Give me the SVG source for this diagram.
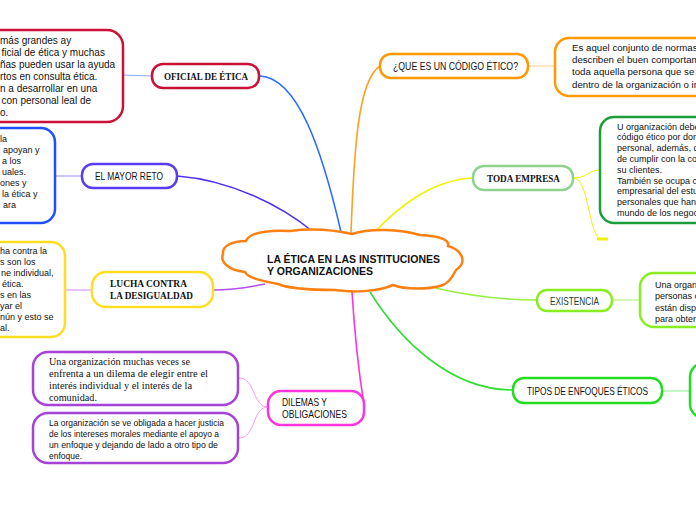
<svg xmlns="http://www.w3.org/2000/svg" width="696" height="520" viewBox="0 0 696 520">
<style>
.bx{fill:#fff;stroke-width:2.5}
.sans{font-family:"Liberation Sans",Arial,sans-serif;font-size:10.5px;fill:#111}
.slab{font-family:"Liberation Serif","Times New Roman",serif;font-weight:bold;font-size:10.5px;fill:#111}
.slabr{font-family:"Liberation Serif","Times New Roman",serif;font-size:10.5px;fill:#111}
.d{font-family:"Liberation Sans",Arial,sans-serif;font-size:10px;fill:#111}
.dq{font-family:"Liberation Sans",Arial,sans-serif;font-size:9.7px;fill:#111}
.d9{font-family:"Liberation Sans",Arial,sans-serif;font-size:9px;fill:#111}
.ctr{font-family:"Liberation Sans",Arial,sans-serif;font-weight:bold;font-size:11px;fill:#111}
.c{fill:none;stroke-width:1.6}
.cl{fill:none;stroke-width:1}
</style>
<rect width="696" height="520" fill="#fff"/>
<g id="connectors">
<path class="c" d="M341,232 C322,150 298,78 260,76" stroke="#2b6cff"/>
<path class="c" d="M312,231 C280,205 230,180 177,176" stroke="#5533ee"/>
<path class="c" d="M265,284 C245,288 228,290 213,290" stroke="#b44cf5"/>
<path class="c" d="M352,292 C355,340 360,380 364,405" stroke="#ff33dd"/>
<path class="c" d="M351,233 C354,150 358,80 380,66" stroke="#ffa020"/>
<path class="c" d="M375,232 C395,210 430,180 473,178" stroke="#f2f200"/>
<path class="c" d="M435,288 C470,296 505,300 537,300" stroke="#99ee44"/>
<path class="c" d="M370,292 C400,340 450,390 513,390" stroke="#33dd33"/>
<path class="cl" d="M123,75 L152,76" stroke="#88aaff"/>
<path class="cl" d="M55,176 L82,176" stroke="#9988ee"/>
<path class="cl" d="M65,290 L92,290" stroke="#cc88ff"/>
<path class="cl" d="M268,407 C252,407 256,378 239,378" stroke="#ff99ee"/>
<path class="cl" d="M268,407 C252,407 256,438 239,438" stroke="#ff99ee"/>
<path class="cl" d="M528,66 L555,66" stroke="#ffcc88"/>
<path class="cl" d="M573,178 C588,178 588,170 600,170" stroke="#f2f200"/>
<path class="cl" d="M573,178 C590,178 588,239 602,239" stroke="#f2f200"/>
<path d="M597,239 L608,239" stroke="#f2f200" stroke-width="3"/>
<path class="cl" d="M612,300 L640,300" stroke="#aaee66"/>
<path class="cl" d="M662,391 L690,391" stroke="#88ee88"/>
</g>
<g id="center">
<path class="bx" stroke="#ff7f11" d="M223,254 C222,246 232,241 246,241 C250,232 268,230 290,231 C305,229 325,228 352,234 C370,228 400,229 420,235 C440,236 450,240 448,246 C462,250 468,262 456,270 C452,278 448,284 440,286 C430,289 405,290 393,285 C380,291 355,293 335,290 C315,290 290,289 278,284 C262,281 248,278 245,272 C228,270 220,262 223,254 Z"/>
<text class="ctr" x="267" y="262.5" textLength="173" lengthAdjust="spacingAndGlyphs">LA ÉTICA EN LAS INSTITUCIONES</text>
<text class="ctr" x="267" y="274.5" textLength="106" lengthAdjust="spacingAndGlyphs">Y ORGANIZACIONES</text>
</g>
<g id="oficial">
<rect class="bx" stroke="#cc1038" x="152" y="64" width="107" height="24" rx="11"/>
<text class="slab" x="164" y="79.5" textLength="84" lengthAdjust="spacingAndGlyphs">OFICIAL DE ÉTICA</text>
</g>
<g id="oficial-detail">
<rect class="bx" stroke="#cc1038" x="-20" y="30" width="143" height="92" rx="16"/>
<text class="d" x="0" y="43.5">más grandes ay</text>
<text class="d" x="1.5" y="55.5">ficial de ética y muchas</text>
<text class="d" x="0" y="67.5">ñas pueden usar la ayuda</text>
<text class="d" x="0" y="79.5">rtos en consulta ética.</text>
<text class="d" x="0" y="91.5">n a desarrollar en una</text>
<text class="d" x="1.5" y="103.5">con personal leal de</text>
<text class="d" x="0" y="115.5">o.</text>
</g>
<g id="mayor-reto">
<rect class="bx" stroke="#5b3cf5" x="82" y="164" width="95" height="24" rx="11"/>
<text class="sans" x="95" y="180" textLength="68" lengthAdjust="spacingAndGlyphs">EL MAYOR RETO</text>
</g>
<g id="mayor-detail">
<rect class="bx" stroke="#1f4fff" x="-20" y="128" width="75" height="95" rx="14"/>
<text class="d9" x="0" y="141.5">la</text>
<text class="d9" x="3" y="152.5">apoyan y</text>
<text class="d9" x="2" y="163.5">a los</text>
<text class="d9" x="2" y="174.5">uales.</text>
<text class="d9" x="0" y="185.5">ones y</text>
<text class="d9" x="2" y="196.5">la ética y</text>
<text class="d9" x="3" y="207.5">ara</text>
</g>
<g id="lucha">
<rect class="bx" stroke="#ffdd22" x="92" y="272" width="121" height="35" rx="14"/>
<text class="slab" x="110" y="287" textLength="77" lengthAdjust="spacingAndGlyphs">LUCHA CONTRA</text>
<text class="slab" x="110" y="298.5" textLength="83" lengthAdjust="spacingAndGlyphs">LA DESIGUALDAD</text>
</g>
<g id="lucha-detail">
<rect class="bx" stroke="#ffdd22" x="-20" y="242" width="85" height="95" rx="14"/>
<text class="d9" x="0" y="253.5">ha contra la</text>
<text class="d9" x="0" y="264.6">s son los</text>
<text class="d9" x="1" y="275.7">ne individual,</text>
<text class="d9" x="2" y="286.8">ética.</text>
<text class="d9" x="0" y="297.9">s en las</text>
<text class="d9" x="0" y="309">yar el</text>
<text class="d9" x="0" y="320.1">nún y esto se</text>
<text class="d9" x="0" y="331.2">al.</text>
</g>
<g id="dilemas">
<rect class="bx" stroke="#ff33dd" x="268" y="391" width="96" height="34" rx="13"/>
<text class="sans" x="282" y="406" textLength="45" lengthAdjust="spacingAndGlyphs">DILEMAS Y</text>
<text class="sans" x="282" y="418" textLength="65" lengthAdjust="spacingAndGlyphs">OBLIGACIONES</text>
</g>
<g id="dilemas-a">
<rect class="bx" stroke="#a542d8" x="33" y="352" width="205" height="53" rx="15"/>
<text class="slabr" x="49" y="364.5" textLength="141" lengthAdjust="spacingAndGlyphs">Una organización muchas veces se</text>
<text class="slabr" x="49" y="376.5" textLength="159" lengthAdjust="spacingAndGlyphs">enfrenta a un dilema de elegir entre el</text>
<text class="slabr" x="49" y="388.5" textLength="143" lengthAdjust="spacingAndGlyphs">interés individual y el interés de la</text>
<text class="slabr" x="49" y="400.5" textLength="48" lengthAdjust="spacingAndGlyphs">comunidad.</text>
</g>
<g id="dilemas-b">
<rect class="bx" stroke="#a542d8" x="33" y="413" width="205" height="50" rx="15"/>
<text class="d9" x="49" y="425.5" textLength="175" lengthAdjust="spacingAndGlyphs">La organización se ve obligada a hacer justicia</text>
<text class="d9" x="49" y="437" textLength="170" lengthAdjust="spacingAndGlyphs">de los intereses morales mediante el apoyo a</text>
<text class="d9" x="49" y="448" textLength="169" lengthAdjust="spacingAndGlyphs">un enfoque y dejando de lado a otro tipo de</text>
<text class="d9" x="49" y="459" textLength="33" lengthAdjust="spacingAndGlyphs">enfoque.</text>
</g>
<g id="que-es">
<rect class="bx" stroke="#ff9900" x="380" y="54" width="148" height="24" rx="11"/>
<text class="sans" x="393" y="69.5" textLength="125" lengthAdjust="spacingAndGlyphs">¿QUE ES UN CÓDIGO ÉTICO?</text>
</g>
<g id="que-detail">
<rect class="bx" stroke="#ff9900" x="555" y="38" width="160" height="58" rx="14"/>
<text class="dq" x="572" y="50.5">Es aquel conjunto de normas</text>
<text class="dq" x="572" y="62.5">describen el buen comportam</text>
<text class="dq" x="572" y="75">toda aquella persona que se c</text>
<text class="dq" x="572" y="87.5">dentro de la organización o in</text>
</g>
<g id="toda-empresa">
<rect class="bx" stroke="#8fd18f" x="473" y="166" width="100" height="24" rx="11"/>
<text class="slab" x="487" y="182" textLength="73" lengthAdjust="spacingAndGlyphs">TODA EMPRESA</text>
</g>
<g id="toda-detail">
<rect class="bx" stroke="#1a9e3c" x="600" y="117" width="120" height="106" rx="14"/>
<text class="d9" x="617" y="129.5">U organización debe</text>
<text class="d9" x="617" y="140.3">código ético por donde</text>
<text class="d9" x="617" y="151.1">personal, además, de</text>
<text class="d9" x="617" y="161.9">de cumplir con la con</text>
<text class="d9" x="617" y="172.7">su clientes.</text>
<text class="d9" x="617" y="183.5">También se ocupa co</text>
<text class="d9" x="617" y="194.3">empresarial del estud</text>
<text class="d9" x="617" y="205.1">personales que han c</text>
<text class="d9" x="617" y="215.9">mundo de los negoci</text>
</g>
<g id="existencia">
<rect class="bx" stroke="#88ee22" x="537" y="290" width="75" height="21" rx="10"/>
<text class="sans" x="550" y="304.5" textLength="49" lengthAdjust="spacingAndGlyphs" style="fill:#1e4030">EXISTENCIA</text>
</g>
<g id="existencia-detail">
<rect class="bx" stroke="#88ee22" x="640" y="273" width="80" height="54" rx="14"/>
<text class="d9" x="655" y="287.5">Una organ</text>
<text class="d9" x="655" y="299">personas c</text>
<text class="d9" x="655" y="310.5">están disp</text>
<text class="d9" x="655" y="322">para obten</text>
</g>
<g id="tipos">
<rect class="bx" stroke="#22dd22" x="513" y="378" width="149" height="25" rx="11"/>
<text class="sans" x="527" y="394.5" textLength="121" lengthAdjust="spacingAndGlyphs">TIPOS DE ENFOQUES ÉTICOS</text>
</g>
<g id="tipos-detail">
<rect class="bx" stroke="#22dd22" x="690" y="363" width="40" height="55" rx="14"/>
</g>
</svg>
